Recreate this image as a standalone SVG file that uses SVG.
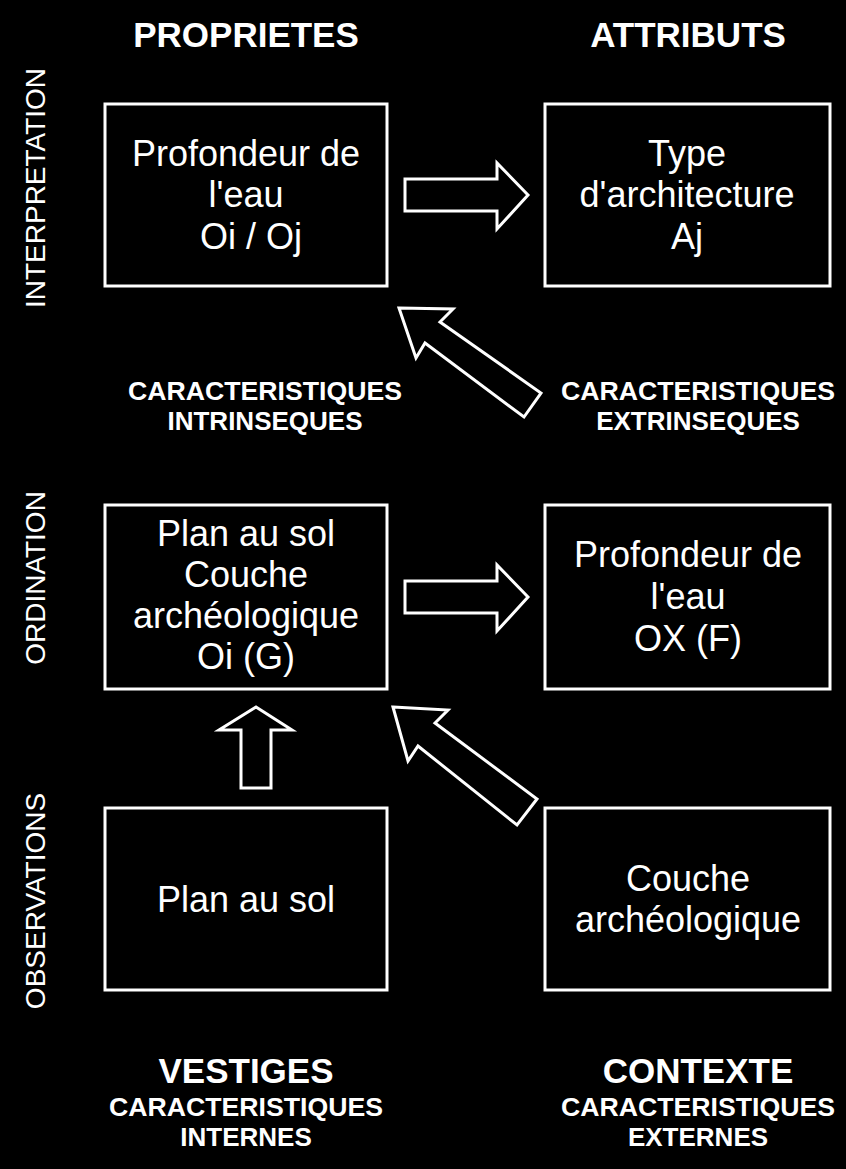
<svg xmlns="http://www.w3.org/2000/svg" width="846" height="1169" viewBox="0 0 846 1169">
<style>
.box{fill:none;stroke:#fff;stroke-width:3}
.arr{fill:none;stroke:#fff;stroke-width:3;stroke-linejoin:miter}
.t{font-family:"Liberation Sans",Arial,sans-serif;fill:#fff;font-size:36px;text-anchor:middle}
.h{font-family:"Liberation Sans",Arial,sans-serif;fill:#fff;font-weight:bold;text-anchor:middle}
.side{font-family:"Liberation Sans",Arial,sans-serif;fill:#fff;font-size:28px;text-anchor:middle}
</style>
<rect width="846" height="1169" fill="#000"/>
<g id="headings">
<text class="h" x="246" y="47" font-size="35">PROPRIETES</text>
<text class="h" x="688" y="47" font-size="35">ATTRIBUTS</text>
</g>
<g id="side-labels">
<text class="side" transform="translate(45,188) rotate(-90)">INTERPRETATION</text>
<text class="side" transform="translate(45,578) rotate(-90)">ORDINATION</text>
<text class="side" transform="translate(45,901) rotate(-90)">OBSERVATIONS</text>
</g>
<g id="n1">
<rect class="box" x="105" y="104" width="282" height="182"/>
<text class="t" x="246" y="166">Profondeur de</text>
<text class="t" x="246" y="207">l'eau</text>
<text class="t" x="251" y="249">Oi / Oj</text>
</g>
<g id="n2">
<rect class="box" x="545" y="104" width="285" height="182"/>
<text class="t" x="687" y="166">Type</text>
<text class="t" x="687" y="207">d'architecture</text>
<text class="t" x="687" y="249">Aj</text>
</g>
<g id="n3">
<rect class="box" x="105" y="505" width="282" height="184"/>
<text class="t" x="246" y="546">Plan au sol</text>
<text class="t" x="246" y="587">Couche</text>
<text class="t" x="246" y="628">archéologique</text>
<text class="t" x="246" y="669">Oi (G)</text>
</g>
<g id="n4">
<rect class="box" x="545" y="505" width="285" height="184"/>
<text class="t" x="688" y="567">Profondeur de</text>
<text class="t" x="688" y="609">l'eau</text>
<text class="t" x="688" y="651">OX (F)</text>
</g>
<g id="n5">
<rect class="box" x="105" y="808" width="282" height="182"/>
<text class="t" x="246" y="912">Plan au sol</text>
</g>
<g id="n6">
<rect class="box" x="545" y="808" width="285" height="182"/>
<text class="t" x="688" y="891">Couche</text>
<text class="t" x="688" y="932">archéologique</text>
</g>
<g id="mid-labels">
<text class="h" x="265" y="400" font-size="26" textLength="274" lengthAdjust="spacingAndGlyphs">CARACTERISTIQUES</text>
<text class="h" x="265" y="430" font-size="26">INTRINSEQUES</text>
<text class="h" x="698" y="400" font-size="26" textLength="274" lengthAdjust="spacingAndGlyphs">CARACTERISTIQUES</text>
<text class="h" x="698" y="430" font-size="26">EXTRINSEQUES</text>
</g>
<g id="bottom-labels">
<text class="h" x="246" y="1083" font-size="35">VESTIGES</text>
<text class="h" x="246" y="1116" font-size="26" textLength="274" lengthAdjust="spacingAndGlyphs">CARACTERISTIQUES</text>
<text class="h" x="246" y="1146" font-size="26">INTERNES</text>
<text class="h" x="698" y="1083" font-size="35">CONTEXTE</text>
<text class="h" x="698" y="1116" font-size="26" textLength="274" lengthAdjust="spacingAndGlyphs">CARACTERISTIQUES</text>
<text class="h" x="698" y="1146" font-size="26">EXTERNES</text>
</g>
<g id="connectors">
<polygon class="arr" points="405,179 497,179 497,163 528,195 497,229 497,211 405,211"/>
<polygon class="arr" points="405,581 497,581 497,565 528,597 497,631 497,613 405,613"/>
<polygon class="arr" points="399,308 453,309 440,322 541,393 524,417 425,343 416,358"/>
<polygon class="arr" points="393,707 448,710 435,723 537,799 517,825 418,746 408,761"/>
<polygon class="arr" points="256,707 292,730 271,730 271,788 241,788 241,730 219,730"/>
</g>
</svg>
